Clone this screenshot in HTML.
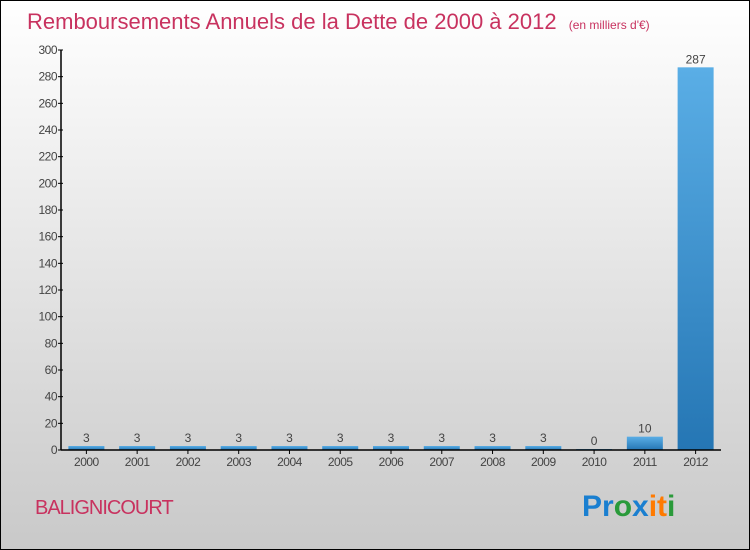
<!DOCTYPE html>
<html><head><meta charset="utf-8"><style>
body{margin:0;width:750px;height:550px;overflow:hidden}
svg{display:block;font-family:"Liberation Sans",sans-serif}
</style></head><body>
<svg width="750" height="550" xmlns="http://www.w3.org/2000/svg">
<defs>
<linearGradient id="bg" x1="0" y1="0" x2="0" y2="1"><stop offset="0" stop-color="#ffffff"/><stop offset="1" stop-color="#c9c9c9"/></linearGradient>
<linearGradient id="bar" x1="0" y1="0" x2="0" y2="1"><stop offset="0" stop-color="#5aaee6"/><stop offset="1" stop-color="#2576b4"/></linearGradient>
</defs>
<rect x="0.5" y="0.5" width="749" height="549" fill="url(#bg)" stroke="#000"/>
<text x="27" y="29" font-size="22" fill="#c8325f">Remboursements Annuels de la Dette de 2000 à 2012 <tspan font-size="12" dx="6">(en milliers d'€)</tspan></text>
<g id="yaxis"></g>
<g id="bars"></g>
<g id="xaxis"></g>
<text x="35" y="514" font-size="20" fill="#c8325f" letter-spacing="-1">BALIGNICOURT</text>
<g font-size="30" font-weight="bold" font-family="'Liberation Sans',sans-serif">
<text x="582" y="516"><tspan fill="#1a7fd0">Pr</tspan><tspan fill="#2a9a3a">o</tspan><tspan fill="#1a7fd0">x</tspan><tspan fill="#ff7a00">i</tspan><tspan fill="#ff7a00">t</tspan><tspan fill="#2a9a3a">i</tspan></text>
</g>
</svg>
<script>
const categories=["2000","2001","2002","2003","2004","2005","2006","2007","2008","2009","2010","2011","2012"];
const values=[3,3,3,3,3,3,3,3,3,3,0,10,287];
const yTicks=[0,20,40,60,80,100,120,140,160,180,200,220,240,260,280,300];
const NS="http://www.w3.org/2000/svg";
const L=61,R=721,T=50,B=450,YMAX=300;
const band=(R-L)/categories.length;
const y=v=>B-(v/YMAX)*(B-T);
const x=i=>L+band*(i+0.5);
function mk(t,a,p){const e=document.createElementNS(NS,t);for(const k in a)e.setAttribute(k,a[k]);p.appendChild(e);return e;}
const ya=document.getElementById('yaxis'),xa=document.getElementById('xaxis'),bs=document.getElementById('bars');
mk('line',{x1:L,y1:T,x2:L,y2:B,stroke:'#000','stroke-width':1.5},ya);
yTicks.forEach(v=>{
 const tk=mk('line',{x1:L-3,y1:y(v),x2:L+2,y2:y(v),stroke:'#000'},ya);
 
 
 const t=mk('text',{x:L-4,y:y(v)+4,'font-size':12,fill:'#444','text-anchor':'end','letter-spacing':'-0.5'},ya);
 t.textContent=v;
 
 
});
categories.forEach((c,i)=>{
 const h=Math.max(B-y(values[i]),values[i]>0?0:1);
 const r=mk('rect',{x:x(i)-18,y:B-h,width:36,height:h,fill:'url(#bar)'},bs);
 
 
 const vl=mk('text',{x:x(i),y:B-h-4,'font-size':12,fill:'#444','text-anchor':'middle'},bs);
 vl.textContent=values[i];
 
 
 const tk=mk('line',{x1:x(i),y1:B,x2:x(i),y2:B+4,stroke:'#000'},xa);
 
 
 const t=mk('text',{x:x(i),y:B+16,'font-size':12,fill:'#444','text-anchor':'middle','letter-spacing':'-0.5'},xa);
 t.textContent=c;
 
 
});
mk('line',{x1:L,y1:B,x2:R,y2:B,stroke:'#000','stroke-width':1.5},xa);
</script>
</body></html>
